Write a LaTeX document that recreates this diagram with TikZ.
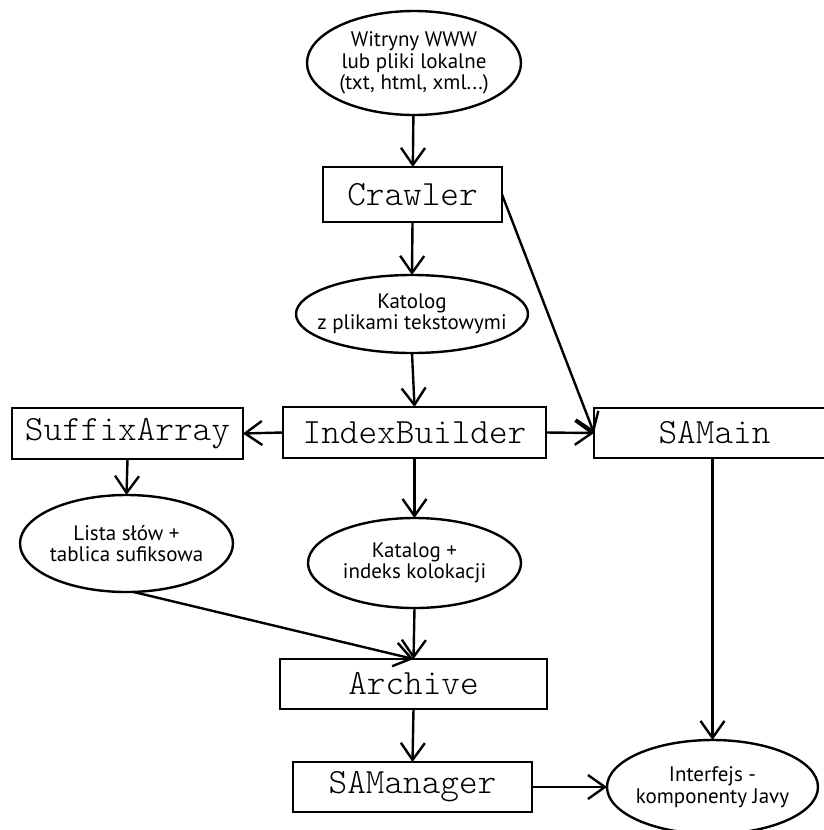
\documentclass[tikz,border=0pt]{standalone}
\usepackage{fontspec}
\setmainfont{PT Sans}
\setmonofont{Latin Modern Mono Light}
\usetikzlibrary{shapes.geometric,arrows.meta}
\begin{document}
\begin{tikzpicture}[x=1pt,y=-1pt,
  every node/.style={inner sep=0pt, outer sep=0pt},
  oval/.style={draw, ellipse, line width=2.4pt},
  ovaltext/.style={align=center, font=\fontsize{21}{21.5}\selectfont},
  boxnode/.style={draw, rectangle, line width=2.4pt, font=\fontsize{35.5}{35.5}\ttfamily},
  conn/.style={line width=2.4pt, -{Straight Barb[length=17pt,width=24pt,line width=2.4pt]}}
]
\useasboundingbox (0,0) rectangle (824,830);
\node[oval, minimum width=214pt, minimum height=104pt] (www) at (414,63) {};
\node[ovaltext] (wwwt) at (www.center) {Witryny WWW\\lub pliki lokalne\\(txt, html, xml...)};
\node[boxnode, minimum width=179pt, minimum height=55pt] (crawler) at (412.5,194.5) {Crawler};
\node[oval, minimum width=232pt, minimum height=78pt] (katolog) at (412,314) {};
\node[ovaltext] (katologt) at (katolog.center) {Katolog\\z plikami tekstowymi};
\node[boxnode, minimum width=263pt, minimum height=51pt] (ib) at (414.5,432.5) {IndexBuilder};
\node[boxnode, minimum width=231pt, minimum height=51pt] (sa) at (127.5,433.5) {SuffixArray};
\node[boxnode, minimum width=241pt, minimum height=50pt] (samain) at (714.5,433) {SAMain};
\node[oval, minimum width=213pt, minimum height=97pt] (lista) at (126.5,543.5) {};
\node[ovaltext] (listat) at (lista.center) {Lista słów +\\tablica sufiksowa};
\node[oval, minimum width=213pt, minimum height=90pt] (katalog) at (414.5,563) {};
\node[ovaltext] (katalogt) at (katalog.center) {Katalog +\\indeks kolokacji};
\node[boxnode, minimum width=267pt, minimum height=50pt] (archive) at (413.5,684) {Archive};
\node[boxnode, minimum width=239pt, minimum height=50pt] (samanager) at (412.5,787) {SAManager};
\node[oval, minimum width=211pt, minimum height=94pt] (interfejs) at (712.5,787) {};
\node[ovaltext] (interfejst) at (interfejs.center) {Interfejs -\\komponenty Javy};

\draw[conn] (www) -- (crawler);
\draw[conn] (crawler.south) -- (katolog.north);
\draw[conn] (crawler.east) -- (samain.west);
\draw[conn] (katolog.south) -- (ib.north);
\draw[conn] (ib.west) -- (sa.east);
\draw[conn] (ib.east) -- (samain.west);
\draw[conn] (sa.south) -- (lista.north);
\draw[conn] (ib.south) -- (katalog.north);
\draw[conn] (lista.-82) -- (archive.north);
\draw[conn] (katalog.south) -- (archive.north);
\draw[conn] (archive.south) -- (samanager.north);
\draw[conn] (samanager.east) -- (interfejs.west);
\draw[conn] (samain.south -| interfejs.north) -- (interfejs.north);
\end{tikzpicture}
\end{document}
